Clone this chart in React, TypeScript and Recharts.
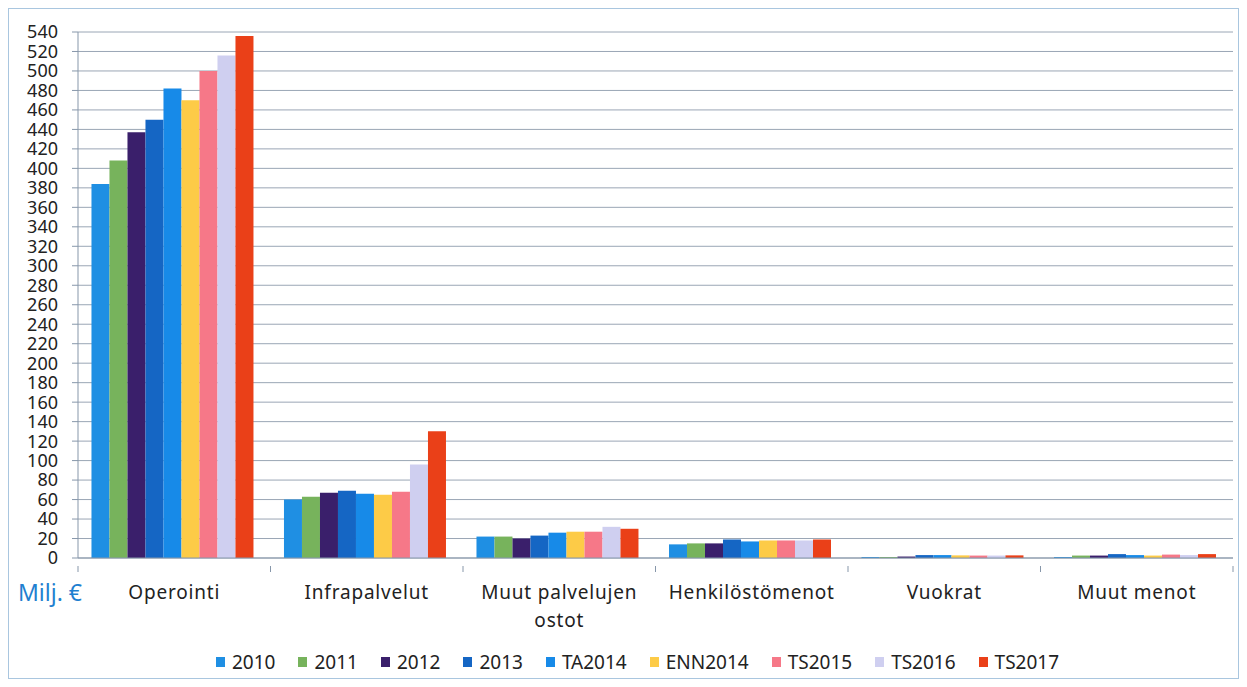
import { Bar, BarChart, CartesianGrid, Legend, XAxis, YAxis } from 'recharts';

const categories = [
  'Operointi',
  'Infrapalvelut',
  'Muut palvelujen ostot',
  'Henkilöstömenot',
  'Vuokrat',
  'Muut menot',
];

const seriesNames = ['2010', '2011', '2012', '2013', 'TA2014', 'ENN2014', 'TS2015', 'TS2016', 'TS2017'];
const seriesColors = ['#1f8fe3', '#77b35c', '#3a1f6b', '#1566c4', '#178ae8', '#fdcb47', '#f67888', '#cfcff0', '#ea4018'];

const v2010 = [384, 60, 22, 14, 1, 1];
const v2011 = [408, 63, 22, 15, 1, 2.5];
const v2012 = [437, 67, 20, 15, 1.5, 2.5];
const v2013 = [450, 69, 23, 19, 3, 4];
const vTA2014 = [482, 66, 26, 17, 3, 3];
const vENN2014 = [470, 65, 27, 18, 2.7, 2.5];
const vTS2015 = [500, 68, 27, 18, 2.5, 3.5];
const vTS2016 = [516, 96, 32, 18, 2.5, 3];
const vTS2017 = [536, 130, 30, 19, 2.7, 4];

const yTicks = [0, 20, 40, 60, 80, 100, 120, 140, 160, 180, 200, 220, 240, 260, 280, 300, 320, 340, 360, 380, 400, 420, 440, 460, 480, 500, 520, 540];

const allValues = [v2010, v2011, v2012, v2013, vTA2014, vENN2014, vTS2015, vTS2016, vTS2017];

const data = categories.map((name, i) => {
  const row: Record<string, string | number> = { name };
  seriesNames.forEach((s, j) => {
    row[s] = allValues[j][i];
  });
  return row;
});

const W = 1229;
const H = 669;
const MARGIN = { top: 23, right: 5, left: 0, bottom: 4 };
const Y_WIDTH = 69;
const BAND = (W - MARGIN.left - MARGIN.right - Y_WIDTH) / categories.length;
const FONT = '"Noto Sans", "Open Sans", sans-serif';
const AXIS = '#8797aa';

function CategoryTick(props: any) {
  const { x, y, payload, index } = props;
  const label: string = payload.value;
  let lines = [label];
  if (label.length > 16) {
    const cut = label.lastIndexOf(' ');
    lines = [label.slice(0, cut), label.slice(cut + 1)];
  }
  const left = x - BAND / 2;
  return (
    <g>
      <line x1={left} x2={left} y1={y} y2={y + 6} stroke={AXIS} />
      {index === categories.length - 1 && (
        <line x1={left + BAND} x2={left + BAND} y1={y} y2={y + 6} stroke={AXIS} />
      )}
      <text
        x={x}
        y={y + 26}
        textAnchor="middle"
        fontFamily={FONT}
        fontSize={19}
        letterSpacing={0.8}
        fill="#222"
      >
        {lines.map((l, i) => (
          <tspan key={i} x={x} dy={i === 0 ? '0.35em' : 28}>
            {l}
          </tspan>
        ))}
      </text>
    </g>
  );
}

function LegendContent() {
  return (
    <div
      style={{
        display: 'flex',
        justifyContent: 'center',
        alignItems: 'center',
        height: 24,
        fontFamily: FONT,
        fontSize: 19,
        color: '#222',
        paddingLeft: 56,
      }}
    >
      {seriesNames.map((s, i) => (
        <div key={s} style={{ display: 'flex', alignItems: 'center', marginRight: 23 }}>
          <span
            style={{
              display: 'inline-block',
              width: 9,
              height: 10,
              background: seriesColors[i],
              marginRight: 7,
            }}
          />
          {s}
        </div>
      ))}
    </div>
  );
}

export default function App() {
  return (
    <div
      style={{
        position: 'relative',
        width: W,
        height: H,
        border: '1px solid #a9c6df',
        background: '#fff',
      }}
    >
      <BarChart
        width={W}
        height={H}
        data={data}
        margin={MARGIN}
        barCategoryGap="7%"
        barGap={0}
      >
        <CartesianGrid vertical={false} stroke="#9aa6b5" />
        <XAxis
          dataKey="name"
          height={H - MARGIN.top - MARGIN.bottom - 24 - 526}
          axisLine={{ stroke: AXIS }}
          tickLine={false}
          tick={<CategoryTick />}
          interval={0}
        />
        <YAxis
          width={Y_WIDTH}
          domain={[0, 540]}
          ticks={yTicks}
          interval={0}
          axisLine={{ stroke: AXIS }}
          tickLine={{ stroke: AXIS }}
          tickSize={6}
          tickMargin={14}
          tick={{ fontFamily: FONT, fontSize: 18, fill: '#222' }}
        />
        <Legend verticalAlign="bottom" height={24} content={<LegendContent />} />
        {seriesNames.map((s, i) => (
          <Bar key={s} dataKey={s} fill={seriesColors[i]} isAnimationActive={false} />
        ))}
      </BarChart>
      <div
        style={{
          position: 'absolute',
          left: 9,
          top: 567,
          fontFamily: FONT,
          fontSize: 23,
          color: '#1f80d0',
        }}
      >
        Milj. €
      </div>
    </div>
  );
}
